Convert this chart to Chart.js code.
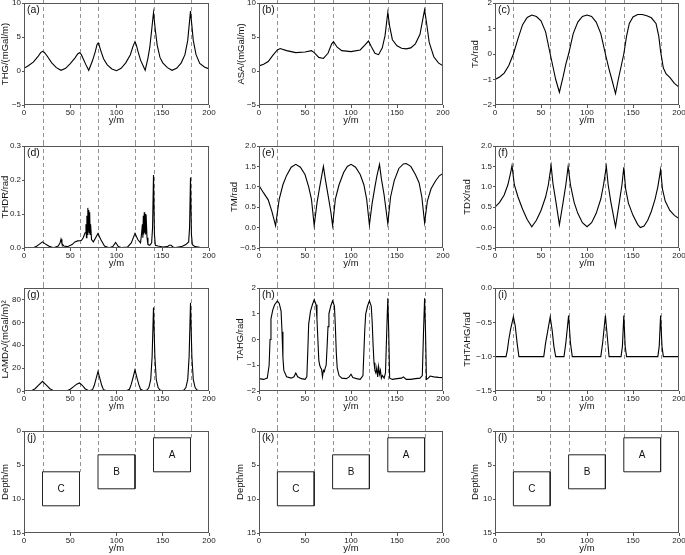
<!DOCTYPE html>
<html>
<head>
<meta charset="utf-8">
<script src="https://cdn.jsdelivr.net/npm/chart.js@4.4.0/dist/chart.umd.min.js"></script>
<style>
  body { margin: 0; background: #fff; }
  #wrap { position: relative; width: 685px; height: 555px; overflow: hidden; background: #fff; }
  #wrap canvas { position: absolute; }
</style>
</head>
<body>
<div id="wrap"></div>
<script>
// ---- data ----
// source bodies (horizontal extent in m, depth top/bottom in m)
const bodyNames = ['C', 'B', 'A'];
const bodyLeft = [20, 80, 140];
const bodyRight = [60, 120, 180];
const bodyTop = [6, 3.5, 1];
const bodyBottom = [11, 8.5, 6];

// (a) THG
const xTHG = [0,5,10,15,18,20,22,25,30,35,40,45,50,55,58,60,62,64,67,70,74,77,79,80,81,83,86,90,95,100,105,110,115,118,120,121.5,123,126,131,134,136,138,140,142,144,147,150,155,160,165,170,174,177,180,183,186,190,195,200];
const yTHG = [0.4,0.8,1.3,2.1,2.7,2.9,2.75,2.2,1.2,0.5,0.1,0.4,1.1,1.9,2.5,2.7,2.4,1.8,0.9,0.1,1.5,2.8,3.9,4.1,3.9,3.0,1.8,0.9,0.3,0.05,0.4,1.2,2.4,3.7,4.3,3.8,3.0,1.6,0.1,1.9,3.5,6.0,8.6,6.0,3.8,2.0,1.2,0.5,0.1,0.4,1.2,2.4,4.5,8.8,4.5,2.4,1.1,0.6,0.3];

// (b) ASA
const xASA = [0,5,10,15,20,23,30,40,50,57,60,65,70,75,79,81,85,90,100,110,115,119,122,126,130,134,137,140,142,145,150,155,160,165,170,175,178,180,182,185,190,195,200];
const yASA = [0.75,1.0,1.4,2.3,3.1,3.3,3.0,2.7,2.8,3.0,2.7,2.0,1.85,2.6,4.0,4.3,3.5,3.0,2.85,3.1,3.8,4.4,3.6,2.6,2.4,3.4,5.2,8.6,6.6,4.6,3.7,3.35,3.25,3.4,4.0,5.4,7.6,9.0,7.2,4.2,2.1,1.2,0.75];

// (c) TA
const xTA = [0,5,10,15,20,25,30,35,40,45,50,55,60,63,66,70,74,77,80,85,90,95,100,105,110,115,120,124,127,131,134,137,140,143,146,150,155,160,165,170,175,178,180,183,186,190,195,200];
const yTA = [-1.0,-0.9,-0.75,-0.45,0.0,0.6,1.15,1.43,1.53,1.47,1.3,0.87,0.0,-0.5,-1.0,-1.5,-0.9,-0.4,0.0,0.8,1.25,1.47,1.53,1.47,1.25,0.8,0.0,-0.6,-1.0,-1.55,-1.0,-0.5,0.0,0.7,1.2,1.45,1.55,1.55,1.5,1.42,1.2,0.7,0.1,-0.55,-0.78,-0.92,-1.15,-1.3];

// (d) THDR
const xTHDR = [0,10,13,16,20,24,28,32,37,39,40,41,43,47,52,55,58,62,64,66,67,67.5,68,68.5,69,69.5,70,70.5,71,71.5,72,73,75,77,80,83,87,92,96,99,102,106,112,116,120,123,126,127,128,128.5,129,129.5,130,130.5,131,131.5,132,133,134,136,138,139,140,141,142,145,150,155,157,159,161,164,170,175,178,179,180,181,182,185,190,200];
const yTHDR = [0,0.001,0.004,0.01,0.018,0.01,0.004,0.001,0.006,0.015,0.026,0.013,0.006,0.004,0.01,0.018,0.021,0.022,0.03,0.045,0.07,0.03,0.095,0.04,0.118,0.05,0.112,0.045,0.105,0.04,0.07,0.025,0.018,0.028,0.043,0.025,0.006,0.001,0.004,0.016,0.004,0.001,0.003,0.015,0.043,0.025,0.015,0.04,0.07,0.03,0.095,0.04,0.105,0.045,0.1,0.04,0.098,0.03,0.01,0.008,0.015,0.06,0.215,0.04,0.008,0.006,0.003,0.004,0.008,0.008,0.003,0.001,0.004,0.01,0.018,0.06,0.207,0.04,0.01,0.004,0.002,0];

// (e) TM
const xTM = [0,5,10,14,18,22,26,30,35,40,45,50,54,57,60,63,66,68,70,72,75,78,80,83,87,92,96,100,105,110,114,117,120,123,126,128,131,133,136,138,140,143,147,152,157,160,165,170,174,177,180,183,187,192,196,200];
const yTM = [1.03,0.85,0.68,0.4,0.05,0.7,1.05,1.28,1.48,1.55,1.48,1.3,1.0,0.7,0.05,0.6,1.0,1.25,1.5,1.2,0.8,0.4,0.05,0.7,1.05,1.35,1.5,1.55,1.48,1.3,1.05,0.7,0.07,0.6,1.0,1.25,1.55,1.2,0.8,0.45,0.1,0.75,1.15,1.45,1.56,1.57,1.5,1.3,1.1,0.75,0.12,0.65,0.95,1.15,1.27,1.33];

// (f) TDX
const xTDX = [0,5,10,14,17,18.5,21,25,30,35,40,45,50,55,58,61,63,66,70,74,77,79.5,82,86,90,95,100,105,110,115,118,121,123,126,131,135,138,140,142,145,150,155,158,162,166,170,174,177,180,182,185,190,195,200];
const yTDX = [0.5,0.62,0.8,1.05,1.35,1.52,1.05,0.75,0.45,0.2,0.02,0.18,0.42,0.75,1.05,1.52,1.08,0.66,0.07,0.62,1.05,1.5,1.05,0.62,0.35,0.12,0.02,0.12,0.35,0.7,1.05,1.5,1.05,0.62,0.02,0.6,1.05,1.48,0.95,0.6,0.3,0.08,0.0,0.04,0.18,0.4,0.7,1.0,1.42,0.95,0.65,0.42,0.3,0.22];

// (g) LAMDA
const xLAMDA = [0,8,12,15,20,25,28,32,36,46,50,54,57,60,63,66,70,74,76,78,80,82,84,86,90,110,114,116,118,120,122,124,126,130,133,135,137,138.5,140,141.5,143,145,147,150,170,173,175,177,178.5,180,181.5,183,185,187,190,200];
const yLAMDA = [0,0.3,2,4.5,8.5,4.5,2,0.3,0,0.1,1.5,4,6,7,5,2,0.2,1,5,11,17,11,5,1,0.1,0.1,1.5,6,12,18.5,12,6,1.5,0.1,0.8,3,10,30,73,30,10,3,0.8,0.1,0.1,0.8,3,10,30,77,30,10,3,0.8,0.1,0];

// (h) TAHG
const xTAHG = [0,5,9,11,12,13,15,17,20,22,24,25,26,27,30,35,38,40,42,46,50,52,53,54,56,58,60,62,63,64,65,66,67,68,69,70,71,72,73,74,75,76,78,80,82,83,84,85,87,90,95,98,100,102,106,110,113,114,115,116,118,120,122,123,124,125,126,127,128,129,130,131,132,133,134,136,137.5,139,140,141,142,145,150,155,157,160,165,170,175,177.5,179,180,181,182,184,186,190,195,200];
const yTAHG = [-1.52,-1.55,-1.5,-1.0,0.0,0.8,1.15,1.35,1.5,1.4,1.1,0.3,-0.7,-1.2,-1.45,-1.5,-1.45,-1.3,-1.45,-1.52,-1.55,-1.45,-0.5,0.6,1.1,1.35,1.55,1.35,0.8,0,-0.8,-1.0,-1.1,-1.15,-1.45,-1.2,-1.25,-1.1,-1.0,-0.3,0.5,1.0,1.3,1.5,1.3,0.5,-0.5,-1.1,-1.4,-1.5,-1.52,-1.45,-1.35,-1.48,-1.52,-1.55,-1.4,-0.5,0.4,1.0,1.3,1.5,1.3,0.7,-0.2,-0.9,-1.2,-1.3,-1.1,-1.45,-1.05,-1.35,-1.2,-1.5,-1.4,-1.5,-1.3,0.5,1.6,0.3,-1.5,-1.55,-1.52,-1.5,-1.45,-1.55,-1.55,-1.52,-1.5,-1.4,0.5,1.6,0.3,-1.55,-1.5,-1.42,-1.45,-1.47,-1.48];

// (i) THTAHG
const xTHTAHG = [0,12,13.5,15,17,20,22,24,26,53,55,57,60,62,64,66,75,77,80,82,84,115,117,120,122,124,137,138.5,140,141.5,143,177,178.5,180,181.5,183,200];
const yTHTAHG = [-1.0,-1.0,-0.9,-0.75,-0.6,-0.42,-0.55,-0.8,-1.0,-1.0,-0.8,-0.65,-0.42,-0.6,-0.85,-1.0,-1.0,-0.8,-0.4,-0.8,-1.0,-1.0,-0.8,-0.4,-0.7,-1.0,-1.0,-0.85,-0.4,-0.85,-1.0,-1.0,-0.85,-0.4,-0.85,-1.0,-1.0];

// ---- layout of the 3x4 grid ----
const rows = [
  { top: 0,   h: 142, pt: 3, pb: 16 },
  { top: 142, h: 143, pt: 4, pb: 16 },
  { top: 285, h: 142, pt: 3, pb: 15 },
  { top: 427, h: 128, pt: 4, pb: 1 }
];
const cols = [ { l: 24, r: 209 }, { l: 259, r: 443 }, { l: 495, r: 679 } ];

const FAMILY = '"Liberation Sans", Arial, Helvetica, sans-serif';
const tickFont = { family: FAMILY, size: 8 };
const titleFont = { family: FAMILY, size: 9.5, lineHeight: 1.2 };

function fmt(dec) {
  return v => (v < 0 ? '\u2212' : '') + Math.abs(v).toFixed(dec);
}

const deco = {
  id: 'deco',
  beforeDatasetsDraw(chart, args, o) {
    const { ctx } = chart;
    const xs = chart.scales.x, ys = chart.scales.y;
    ctx.save();
    ctx.strokeStyle = '#777';
    ctx.lineWidth = 0.8;
    ctx.setLineDash([4, 3]);
    bodyNames.forEach((n, i) => {
      const yEnd = o.depth ? ys.getPixelForValue(bodyTop[i]) : chart.height;
      [bodyLeft[i], bodyRight[i]].forEach(e => {
        const px = Math.round(xs.getPixelForValue(e)) + 0.5;
        ctx.beginPath();
        ctx.moveTo(px, 0);
        ctx.lineTo(px, yEnd);
        ctx.stroke();
      });
    });
    ctx.restore();
  },
  afterDraw(chart, args, o) {
    const { ctx, chartArea: ca } = chart;
    ctx.save();
    ctx.strokeStyle = '#555';
    ctx.lineWidth = 1;
    ctx.strokeRect(ca.left + 0.5, ca.top + 0.5, ca.right - ca.left - 1, ca.bottom - ca.top - 1);
    ctx.fillStyle = '#111';
    ctx.font = '10.5px ' + FAMILY;
    ctx.textBaseline = 'top';
    ctx.textAlign = 'left';
    ctx.fillText(o.letter, ca.left + 3, ca.top + 2);
    if (o.depth) {
      const xs = chart.scales.x, ys = chart.scales.y;
      ctx.font = '10px ' + FAMILY;
      ctx.textAlign = 'center';
      ctx.textBaseline = 'middle';
      bodyNames.forEach((n, i) => {
        ctx.fillText(n, xs.getPixelForValue((bodyLeft[i] + bodyRight[i]) / 2),
          ys.getPixelForValue((bodyTop[i] + bodyBottom[i]) / 2));
      });
    }
    ctx.restore();
  }
};

function addPanel(p) {
  const row = rows[p.row], col = cols[p.col];
  const L = Math.max(0, Math.round(p.titleX - 6));
  const right = Math.min(685, col.r + 14);
  const yW = col.l - L;
  const cv = document.createElement('canvas');
  cv.width = right - L;
  cv.height = row.h;
  cv.style.left = L + 'px';
  cv.style.top = row.top + 'px';
  document.getElementById('wrap').appendChild(cv);

  let datasets;
  if (p.depth) {
    datasets = bodyNames.map((n, i) => ({
      data: [
        { x: bodyLeft[i], y: bodyTop[i] }, { x: bodyRight[i], y: bodyTop[i] },
        { x: bodyRight[i], y: bodyBottom[i] }, { x: bodyLeft[i], y: bodyBottom[i] },
        { x: bodyLeft[i], y: bodyTop[i] }
      ],
      borderColor: '#222', borderWidth: 1, pointRadius: 0, tension: 0
    }));
  } else {
    datasets = [{
      data: p.xs.map((x, i) => ({ x: x, y: p.ys[i] })),
      borderColor: '#000', borderWidth: 1.1, pointRadius: 0, tension: 0
    }];
  }

  new Chart(cv.getContext('2d'), {
    type: 'line',
    data: { datasets },
    plugins: [deco],
    options: {
      responsive: false,
      animation: false,
      devicePixelRatio: 1,
      layout: { padding: { top: row.pt, bottom: row.pb, left: 0, right: right - col.r } },
      plugins: {
        legend: { display: false },
        tooltip: { enabled: false },
        deco: { letter: p.letter, depth: !!p.depth }
      },
      scales: {
        x: {
          type: 'linear', min: 0, max: 200,
          ticks: { stepSize: 50, font: tickFont, color: '#222', padding: 0, maxRotation: 0, autoSkip: false },
          grid: { drawOnChartArea: false, tickLength: 3, color: '#555' },
          border: { display: false },
          title: { display: true, text: 'y/m', font: titleFont, color: '#111', padding: 0 },
          afterFit(s) { s.height = 21; s.paddingLeft = 0; s.paddingRight = 0; }
        },
        y: {
          type: 'linear', min: p.min, max: p.max, reverse: !!p.depth,
          ticks: { stepSize: p.step, font: tickFont, color: '#222', padding: 1, includeBounds: p.bounds !== false,
                   callback: fmt(p.dec) },
          grid: { drawOnChartArea: false, tickLength: 2, color: '#555' },
          border: { display: false },
          title: { display: true, text: p.title, font: titleFont, color: '#111', padding: 0 },
          afterFit(s) { s.width = yW; s.paddingTop = 0; s.paddingBottom = 0; }
        }
      }
    }
  });
}

const panels = [
  { row: 0, col: 0, letter: '(a)', titleX: 6,     xs: xTHG,    ys: yTHG,    min: -5,   max: 10,  step: 5,   dec: 0, title: 'THG/(mGal/m)' },
  { row: 0, col: 1, letter: '(b)', titleX: 241.7, xs: xASA,    ys: yASA,    min: -5,   max: 10,  step: 5,   dec: 0, title: 'ASA/(mGal/m)' },
  { row: 0, col: 2, letter: '(c)', titleX: 476,   xs: xTA,     ys: yTA,     min: -2,   max: 2,   step: 1,   dec: 0, title: 'TA/rad' },
  { row: 1, col: 0, letter: '(d)', titleX: 5.5,   xs: xTHDR,   ys: yTHDR,   min: 0,    max: 0.3, step: 0.1, dec: 1, title: 'THDR/rad' },
  { row: 1, col: 1, letter: '(e)', titleX: 234.5, xs: xTM,     ys: yTM,     min: -0.5, max: 2,   step: 0.5, dec: 1, title: 'TM/rad' },
  { row: 1, col: 2, letter: '(f)', titleX: 467.5, xs: xTDX,    ys: yTDX,    min: -0.5, max: 2,   step: 0.5, dec: 1, title: 'TDX/rad' },
  { row: 2, col: 0, letter: '(g)', titleX: 5.5,   xs: xLAMDA,  ys: yLAMDA,  min: 0,    max: 90,  step: 20,  dec: 0, bounds: false, title: 'LAMDA/(mGal/m)\u00B2' },
  { row: 2, col: 1, letter: '(h)', titleX: 240.7, xs: xTAHG,   ys: yTAHG,   min: -2,   max: 2,   step: 1,   dec: 0, title: 'TAHG/rad' },
  { row: 2, col: 2, letter: '(i)', titleX: 468,   xs: xTHTAHG, ys: yTHTAHG, min: -1.5, max: 0,   step: 0.5, dec: 1, title: 'THTAHG/rad' },
  { row: 3, col: 0, letter: '(j)', titleX: 6,     depth: true, min: 0, max: 15, step: 5, dec: 0, title: 'Depth/m' },
  { row: 3, col: 1, letter: '(k)', titleX: 240.7, depth: true, min: 0, max: 15, step: 5, dec: 0, title: 'Depth/m' },
  { row: 3, col: 2, letter: '(l)', titleX: 475.7, depth: true, min: 0, max: 15, step: 5, dec: 0, title: 'Depth/m' }
];

panels.forEach(addPanel);
</script>
</body>
</html>
